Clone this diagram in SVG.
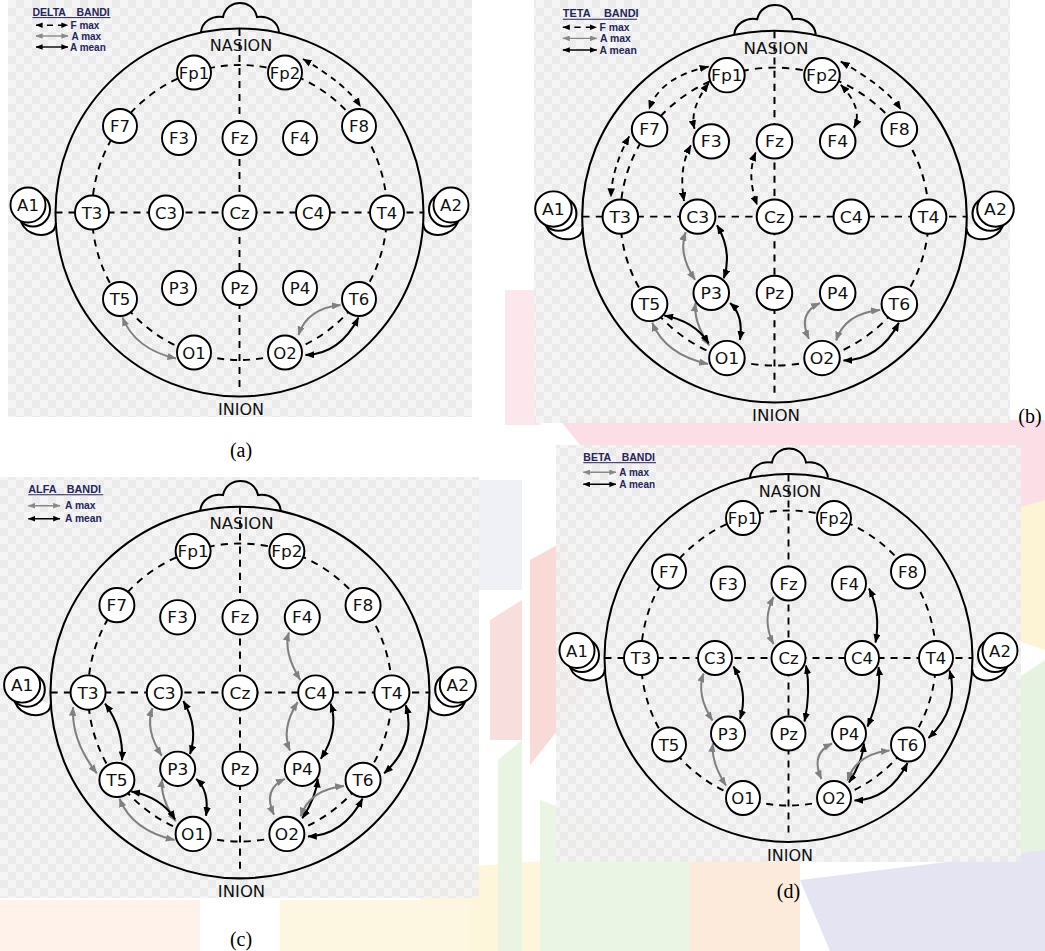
<svg xmlns="http://www.w3.org/2000/svg" xmlns:xlink="http://www.w3.org/1999/xlink" width="1045" height="951" viewBox="0 0 1045 951">
<style>
.el circle{fill:#fff;stroke:#000;stroke-width:1.9}
.el text{font-family:"DejaVu Sans",sans-serif;font-size:16.5px;text-anchor:middle;fill:#111}
.lm{font-family:"DejaVu Sans",sans-serif;font-size:16px;text-anchor:middle;fill:#111}
.fm{fill:none;stroke:#000;stroke-width:1.8;stroke-dasharray:6 5;marker-start:url(#mk);marker-end:url(#mk)}
.am{fill:none;stroke:#000;stroke-width:2;marker-start:url(#mk);marker-end:url(#mk)}
.ax{fill:none;stroke:#808080;stroke-width:2;marker-start:url(#mg);marker-end:url(#mg)}
.lt{font-family:"Liberation Sans",Arial,sans-serif;font-weight:bold;font-size:10px;fill:#25255a}
.tt{font-family:"Liberation Sans",Arial,sans-serif;font-weight:bold;font-size:10.5px;fill:#25255a}
.lu{stroke:#25255a;stroke-width:1}
.lf{fill:none;stroke:#000;stroke-width:1.4;stroke-dasharray:6 5;marker-start:url(#sk);marker-end:url(#sk)}
.lx{fill:none;stroke:#888;stroke-width:1.4;marker-start:url(#sg);marker-end:url(#sg)}
.lk{fill:none;stroke:#000;stroke-width:1.4;marker-start:url(#sk);marker-end:url(#sk)}
.cap{font-family:"Liberation Serif","Times New Roman",serif;font-size:20px;text-anchor:middle;fill:#000}
.bg{fill:url(#chk);opacity:0.9}
</style>
<defs>
<pattern id="chk" width="16" height="16" patternUnits="userSpaceOnUse"><rect width="16" height="16" fill="#f4f4f4"/><rect width="8" height="8" fill="#e9e9e9"/><rect x="8" y="8" width="8" height="8" fill="#e9e9e9"/></pattern>
<marker id="mk" viewBox="0 0 10 8" refX="9.5" refY="4" markerWidth="9" markerHeight="7.2" markerUnits="userSpaceOnUse" orient="auto-start-reverse"><path d="M0,0 L10,4 L0,8 z" fill="#000"/></marker>
<marker id="mg" viewBox="0 0 10 8" refX="9.5" refY="4" markerWidth="9" markerHeight="7.2" markerUnits="userSpaceOnUse" orient="auto-start-reverse"><path d="M0,0 L10,4 L0,8 z" fill="#808080"/></marker>
<marker id="sk" viewBox="0 0 10 8" refX="9.5" refY="4" markerWidth="7" markerHeight="5.6" markerUnits="userSpaceOnUse" orient="auto-start-reverse"><path d="M0,0 L10,4 L0,8 z" fill="#000"/></marker>
<marker id="sg" viewBox="0 0 10 8" refX="9.5" refY="4" markerWidth="7" markerHeight="5.6" markerUnits="userSpaceOnUse" orient="auto-start-reverse"><path d="M0,0 L10,4 L0,8 z" fill="#888"/></marker>
<g id="headbase">
<path d="M201,32 C202,22 212,15 223,17 C225,7 233,3 240,3 C247,3 255,7 257,17 C268,15 278,22 279,32" fill="none" stroke="#000" stroke-width="2"/>
<circle cx="239.5" cy="212.5" r="184" fill="none" stroke="#000" stroke-width="2"/>
<path d="M55.8,223 C56,235 41,237 32,233 C25,230 21,225 20,217" fill="#fff" stroke="#000" stroke-width="2"/>
<circle cx="33" cy="209.5" r="17" fill="#fff" stroke="#000" stroke-width="2"/>
<path d="M423.2,223 C423,235 438,237 447,233 C454,230 458,225 459,217" fill="#fff" stroke="#000" stroke-width="2"/>
<circle cx="446" cy="209.5" r="17" fill="#fff" stroke="#000" stroke-width="2"/>
<circle cx="239.5" cy="212.5" r="147.5" fill="none" stroke="#000" stroke-width="1.9" stroke-dasharray="7 6"/>
<path d="M55.5,212.5 H423.5 M239.5,29 V393" fill="none" stroke="#000" stroke-width="1.9" stroke-dasharray="7 6"/>
</g>
</defs>
<rect width="1045" height="951" fill="#fff"/>
<g id="watermark" opacity="0.75">
<polygon points="560,420 1045,420 1045,540 1005,500 975,470 600,470" fill="#fbd3de"/>
<polygon points="530,560 566,540 582,700 530,765" fill="#f6d0c9"/>
<polygon points="1010,510 1045,500 1045,650 1015,640" fill="#fdf0c8"/>
<polygon points="1015,680 1045,660 1045,860 1015,860" fill="#e0f0d8"/>
<polygon points="420,870 560,860 560,951 420,951" fill="#fdf3cf"/>
<polygon points="540,800 700,860 700,951 540,951" fill="#e3f2dc"/>
<polygon points="690,860 800,860 800,951 690,951" fill="#fbe3d0"/>
<polygon points="800,880 1045,850 1045,951 830,951" fill="#dddcf0"/>
<polygon points="498,760 522,740 522,951 498,951" fill="#e2f1da"/>
<polygon points="490,620 522,600 522,740 490,740" fill="#f7d3d3"/>
<polygon points="478,480 522,480 522,590 478,590" fill="#ecebf5"/>
<polygon points="505,290 540,290 540,425 505,425" fill="#fbe0e8"/>
<polygon points="0,900 200,900 200,951 0,951" fill="#fdeee4"/>
<polygon points="280,900 470,900 470,951 280,951" fill="#fdf5d8"/>
</g>
<g id="backgrounds">
<rect class="bg" x="8" y="0" width="464" height="417"/>
<rect class="bg" x="534" y="0" width="476" height="423"/>
<rect class="bg" x="0" y="477" width="479" height="421"/>
<rect class="bg" x="556" y="445" width="465" height="417"/>
</g>

<g id="panel-a">
<use href="#headbase"/>
<text class="lm" x="241" y="51">NASION</text>
<text class="lm" x="241" y="415">INION</text>
<g id="a-legend">
<text class="tt" x="32.5" y="15.7">DELTA</text><text class="tt" x="76.5" y="15.7">BANDI</text>
<line class="lu" x1="32.5" y1="17.6" x2="110.5" y2="17.6"/>
<path class="lf" d="M36,25.2H68"/><text class="lt" x="70.5" y="28.7">F max</text>
<path class="lx" d="M36,36H68"/><text class="lt" x="71.5" y="39.5">A max</text>
<path class="lk" d="M36,47H68"/><text class="lt" x="70" y="50.5">A mean</text>
</g>
<g id="a-connectors">
<path class="fm" d="M303,59 Q346,84 360.5,106.5"/>
<path class="ax" d="M122.5,317.5 Q135,349 176,358.5"/>
<path class="ax" d="M340.5,305 Q307,308.5 298.5,335"/>
<path class="am" d="M358.5,317.5 Q340,354 305.5,355"/>
</g>
<g id="a-nodes">
<g id="a-Fp1" class="el"><circle cx="194" cy="72.5" r="17"/><text x="194" y="78.5">Fp1</text></g>
<g id="a-Fp2" class="el"><circle cx="285" cy="72.5" r="17"/><text x="285" y="78.5">Fp2</text></g>
<g id="a-F7" class="el"><circle cx="120" cy="126" r="17"/><text x="120" y="132">F7</text></g>
<g id="a-F3" class="el"><circle cx="179" cy="138" r="17"/><text x="179" y="144">F3</text></g>
<g id="a-Fz" class="el"><circle cx="239.5" cy="138" r="17"/><text x="239.5" y="144">Fz</text></g>
<g id="a-F4" class="el"><circle cx="300" cy="138" r="17"/><text x="300" y="144">F4</text></g>
<g id="a-F8" class="el"><circle cx="359" cy="126" r="17"/><text x="359" y="132">F8</text></g>
<g id="a-A1" class="el"><circle cx="28" cy="205" r="17.5"/><text x="28" y="211">A1</text></g>
<g id="a-T3" class="el"><circle cx="92" cy="212.5" r="17"/><text x="92" y="218.5">T3</text></g>
<g id="a-C3" class="el"><circle cx="166" cy="212.5" r="17"/><text x="166" y="218.5">C3</text></g>
<g id="a-Cz" class="el"><circle cx="239.5" cy="212.5" r="17"/><text x="239.5" y="218.5">Cz</text></g>
<g id="a-C4" class="el"><circle cx="313" cy="212.5" r="17"/><text x="313" y="218.5">C4</text></g>
<g id="a-T4" class="el"><circle cx="387" cy="212.5" r="17"/><text x="387" y="218.5">T4</text></g>
<g id="a-A2" class="el"><circle cx="451" cy="205" r="17.5"/><text x="451" y="211">A2</text></g>
<g id="a-T5" class="el"><circle cx="120" cy="299" r="17"/><text x="120" y="305">T5</text></g>
<g id="a-P3" class="el"><circle cx="179" cy="288" r="17"/><text x="179" y="294">P3</text></g>
<g id="a-Pz" class="el"><circle cx="239.5" cy="288" r="17"/><text x="239.5" y="294">Pz</text></g>
<g id="a-P4" class="el"><circle cx="300" cy="288" r="17"/><text x="300" y="294">P4</text></g>
<g id="a-T6" class="el"><circle cx="359" cy="299" r="17"/><text x="359" y="305">T6</text></g>
<g id="a-O1" class="el"><circle cx="194" cy="352.5" r="17"/><text x="194" y="358.5">O1</text></g>
<g id="a-O2" class="el"><circle cx="285" cy="352.5" r="17"/><text x="285" y="358.5">O2</text></g>
</g>
</g>

<g id="panel-b" transform="translate(524.2,2) scale(1.045,1.01)">
<use href="#headbase"/>
<text class="lm" x="241" y="51">NASION</text>
<text class="lm" x="241" y="415">INION</text>
<g id="b-legend">
<text class="tt" x="37" y="15">TETA</text><text class="tt" x="76.3" y="15">BANDI</text>
<line class="lu" x1="37" y1="17" x2="108" y2="17"/>
<path class="lf" d="M37,25H69.5"/><text class="lt" x="72" y="28.5">F max</text>
<path class="lx" d="M37,36H69.5"/><text class="lt" x="72.5" y="39.5">A max</text>
<path class="lk" d="M37,47.5H69.5"/><text class="lt" x="72" y="51">A mean</text>
</g>
<g id="b-connectors">
<path class="fm" d="M176.5,64 Q130.5,74 119.5,106"/>
<path class="fm" d="M176.5,80.5 Q158,106 163,125.5"/>
<path class="fm" d="M100.5,133 Q84,164 83,193"/>
<path class="fm" d="M159.5,142 Q147.5,164.5 153,197"/>
<path class="fm" d="M221.5,149 Q212.5,172 223,201"/>
<path class="fm" d="M303,59 Q346,84 360.5,106.5"/>
<path class="fm" d="M303,82 Q325,106 315.5,124.5"/>
<path class="ax" d="M154.5,228 Q147,249.5 163.5,275"/>
<path class="am" d="M184.5,221 Q199.5,247 191,273.5"/>
<path class="ax" d="M164,298 Q161.5,316 177,340"/>
<path class="am" d="M197,298 Q210,310 206.5,334.5"/>
<path class="am" d="M134,310.5 Q163,316 176.5,338"/>
<path class="ax" d="M122.5,317.5 Q135,349 176,358.5"/>
<path class="ax" d="M283,298 Q261,308.5 272.5,333.5"/>
<path class="ax" d="M340.5,305 Q307,308.5 298.5,335"/>
<path class="am" d="M358.5,317.5 Q340,354 305.5,355"/>
</g>
<g id="b-nodes">
<g id="b-Fp1" class="el"><circle cx="194" cy="72.5" r="17"/><text x="194" y="78.5">Fp1</text></g>
<g id="b-Fp2" class="el"><circle cx="285" cy="72.5" r="17"/><text x="285" y="78.5">Fp2</text></g>
<g id="b-F7" class="el"><circle cx="120" cy="126" r="17"/><text x="120" y="132">F7</text></g>
<g id="b-F3" class="el"><circle cx="179" cy="138" r="17"/><text x="179" y="144">F3</text></g>
<g id="b-Fz" class="el"><circle cx="239.5" cy="138" r="17"/><text x="239.5" y="144">Fz</text></g>
<g id="b-F4" class="el"><circle cx="300" cy="138" r="17"/><text x="300" y="144">F4</text></g>
<g id="b-F8" class="el"><circle cx="359" cy="126" r="17"/><text x="359" y="132">F8</text></g>
<g id="b-A1" class="el"><circle cx="28" cy="205" r="17.5"/><text x="28" y="211">A1</text></g>
<g id="b-T3" class="el"><circle cx="92" cy="212.5" r="17"/><text x="92" y="218.5">T3</text></g>
<g id="b-C3" class="el"><circle cx="166" cy="212.5" r="17"/><text x="166" y="218.5">C3</text></g>
<g id="b-Cz" class="el"><circle cx="239.5" cy="212.5" r="17"/><text x="239.5" y="218.5">Cz</text></g>
<g id="b-C4" class="el"><circle cx="313" cy="212.5" r="17"/><text x="313" y="218.5">C4</text></g>
<g id="b-T4" class="el"><circle cx="387" cy="212.5" r="17"/><text x="387" y="218.5">T4</text></g>
<g id="b-A2" class="el"><circle cx="451" cy="205" r="17.5"/><text x="451" y="211">A2</text></g>
<g id="b-T5" class="el"><circle cx="120" cy="299" r="17"/><text x="120" y="305">T5</text></g>
<g id="b-P3" class="el"><circle cx="179" cy="288" r="17"/><text x="179" y="294">P3</text></g>
<g id="b-Pz" class="el"><circle cx="239.5" cy="288" r="17"/><text x="239.5" y="294">Pz</text></g>
<g id="b-P4" class="el"><circle cx="300" cy="288" r="17"/><text x="300" y="294">P4</text></g>
<g id="b-T6" class="el"><circle cx="359" cy="299" r="17"/><text x="359" y="305">T6</text></g>
<g id="b-O1" class="el"><circle cx="194" cy="352.5" r="17"/><text x="194" y="358.5">O1</text></g>
<g id="b-O2" class="el"><circle cx="285" cy="352.5" r="17"/><text x="285" y="358.5">O2</text></g>
</g>
</g>

<g id="panel-c" transform="translate(-6.7,477.9) scale(1.03,1.01)">
<use href="#headbase"/>
<text class="lm" x="241" y="51">NASION</text>
<text class="lm" x="241" y="415">INION</text>
<g id="c-legend">
<text class="tt" x="34" y="14.7">ALFA</text><text class="tt" x="71.3" y="14.7">BANDI</text>
<line class="lu" x1="34" y1="16.7" x2="106.8" y2="16.7"/>
<path class="lx" d="M34,27.5H64.8"/><text class="lt" x="69.6" y="30.8">A max</text>
<path class="lk" d="M34,40.4H64.8"/><text class="lt" x="69.6" y="43.7">A mean</text>
</g>
<g id="c-connectors">
<path class="ax" d="M287,153 Q281.3,172.3 298,200"/>
<path class="ax" d="M77.5,227 Q75.5,260 100.5,292.5"/>
<path class="am" d="M108.5,223.5 Q126.5,248.5 125,279.5"/>
<path class="ax" d="M154.5,228 Q147,249.5 163.5,275"/>
<path class="am" d="M184.5,221 Q199.5,247 191,273.5"/>
<path class="ax" d="M164,298 Q161.5,316 177,340"/>
<path class="am" d="M197,298 Q210,310 206.5,334.5"/>
<path class="am" d="M134,310.5 Q163,316 176.5,338"/>
<path class="ax" d="M122.5,317.5 Q135,349 176,358.5"/>
<path class="ax" d="M295.5,222 Q279,248.5 288,270"/>
<path class="am" d="M327.5,223.5 Q336,250 318,278"/>
<path class="ax" d="M283,298 Q261,308.5 272.5,333.5"/>
<path class="am" d="M315,298 Q313.5,316 300,337"/>
<path class="am" d="M400.5,225 Q411,262.5 379.5,292.5"/>
<path class="ax" d="M340.5,305 Q307,308.5 298.5,335"/>
<path class="am" d="M358.5,317.5 Q340,354 305.5,355"/>
</g>
<g id="c-nodes">
<g id="c-Fp1" class="el"><circle cx="194" cy="72.5" r="17"/><text x="194" y="78.5">Fp1</text></g>
<g id="c-Fp2" class="el"><circle cx="285" cy="72.5" r="17"/><text x="285" y="78.5">Fp2</text></g>
<g id="c-F7" class="el"><circle cx="120" cy="126" r="17"/><text x="120" y="132">F7</text></g>
<g id="c-F3" class="el"><circle cx="179" cy="138" r="17"/><text x="179" y="144">F3</text></g>
<g id="c-Fz" class="el"><circle cx="239.5" cy="138" r="17"/><text x="239.5" y="144">Fz</text></g>
<g id="c-F4" class="el"><circle cx="300" cy="138" r="17"/><text x="300" y="144">F4</text></g>
<g id="c-F8" class="el"><circle cx="359" cy="126" r="17"/><text x="359" y="132">F8</text></g>
<g id="c-A1" class="el"><circle cx="28" cy="205" r="17.5"/><text x="28" y="211">A1</text></g>
<g id="c-T3" class="el"><circle cx="92" cy="212.5" r="17"/><text x="92" y="218.5">T3</text></g>
<g id="c-C3" class="el"><circle cx="166" cy="212.5" r="17"/><text x="166" y="218.5">C3</text></g>
<g id="c-Cz" class="el"><circle cx="239.5" cy="212.5" r="17"/><text x="239.5" y="218.5">Cz</text></g>
<g id="c-C4" class="el"><circle cx="313" cy="212.5" r="17"/><text x="313" y="218.5">C4</text></g>
<g id="c-T4" class="el"><circle cx="387" cy="212.5" r="17"/><text x="387" y="218.5">T4</text></g>
<g id="c-A2" class="el"><circle cx="451" cy="205" r="17.5"/><text x="451" y="211">A2</text></g>
<g id="c-T5" class="el"><circle cx="120" cy="299" r="17"/><text x="120" y="305">T5</text></g>
<g id="c-P3" class="el"><circle cx="179" cy="288" r="17"/><text x="179" y="294">P3</text></g>
<g id="c-Pz" class="el"><circle cx="239.5" cy="288" r="17"/><text x="239.5" y="294">Pz</text></g>
<g id="c-P4" class="el"><circle cx="300" cy="288" r="17"/><text x="300" y="294">P4</text></g>
<g id="c-T6" class="el"><circle cx="359" cy="299" r="17"/><text x="359" y="305">T6</text></g>
<g id="c-O1" class="el"><circle cx="194" cy="352.5" r="17"/><text x="194" y="358.5">O1</text></g>
<g id="c-O2" class="el"><circle cx="285" cy="352.5" r="17"/><text x="285" y="358.5">O2</text></g>
</g>
</g>

<g id="panel-d" transform="translate(549,445.5)">
<use href="#headbase"/>
<text class="lm" x="241" y="51">NASION</text>
<text class="lm" x="241" y="415">INION</text>
<g id="d-legend">
<text class="tt" x="34.3" y="15.2">BETA</text><text class="tt" x="72.7" y="15.2">BANDI</text>
<line class="lu" x1="34.3" y1="17.2" x2="107" y2="17.2"/>
<path class="lx" d="M34.3,26.8H67"/><text class="lt" x="70.3" y="30">A max</text>
<path class="lk" d="M34.3,38.8H67"/><text class="lt" x="70.3" y="42">A mean</text>
</g>
<g id="d-connectors">
<path class="ax" d="M224.5,151.5 Q212.5,175 224.5,198.5"/>
<path class="am" d="M320,143 Q332,167 326.5,197"/>
<path class="ax" d="M154.5,228 Q147,249.5 163.5,275"/>
<path class="am" d="M184.5,221 Q199.5,247 191,273.5"/>
<path class="am" d="M257,220 Q262,246 255.5,276"/>
<path class="am" d="M329.5,221.5 Q333,248 318.5,281"/>
<path class="am" d="M400.5,225 Q411,262.5 379.5,292.5"/>
<path class="ax" d="M164,298 Q161.5,316 177,340"/>
<path class="ax" d="M283,298 Q261,308.5 272.5,333.5"/>
<path class="am" d="M315,298 Q313.5,316 300,337"/>
<path class="ax" d="M340.5,305 Q307,308.5 298.5,335"/>
<path class="am" d="M358.5,317.5 Q340,354 305.5,355"/>
</g>
<g id="d-nodes">
<g id="d-Fp1" class="el"><circle cx="194" cy="72.5" r="17"/><text x="194" y="78.5">Fp1</text></g>
<g id="d-Fp2" class="el"><circle cx="285" cy="72.5" r="17"/><text x="285" y="78.5">Fp2</text></g>
<g id="d-F7" class="el"><circle cx="120" cy="126" r="17"/><text x="120" y="132">F7</text></g>
<g id="d-F3" class="el"><circle cx="179" cy="138" r="17"/><text x="179" y="144">F3</text></g>
<g id="d-Fz" class="el"><circle cx="239.5" cy="138" r="17"/><text x="239.5" y="144">Fz</text></g>
<g id="d-F4" class="el"><circle cx="300" cy="138" r="17"/><text x="300" y="144">F4</text></g>
<g id="d-F8" class="el"><circle cx="359" cy="126" r="17"/><text x="359" y="132">F8</text></g>
<g id="d-A1" class="el"><circle cx="28" cy="205" r="17.5"/><text x="28" y="211">A1</text></g>
<g id="d-T3" class="el"><circle cx="92" cy="212.5" r="17"/><text x="92" y="218.5">T3</text></g>
<g id="d-C3" class="el"><circle cx="166" cy="212.5" r="17"/><text x="166" y="218.5">C3</text></g>
<g id="d-Cz" class="el"><circle cx="239.5" cy="212.5" r="17"/><text x="239.5" y="218.5">Cz</text></g>
<g id="d-C4" class="el"><circle cx="313" cy="212.5" r="17"/><text x="313" y="218.5">C4</text></g>
<g id="d-T4" class="el"><circle cx="387" cy="212.5" r="17"/><text x="387" y="218.5">T4</text></g>
<g id="d-A2" class="el"><circle cx="451" cy="205" r="17.5"/><text x="451" y="211">A2</text></g>
<g id="d-T5" class="el"><circle cx="120" cy="299" r="17"/><text x="120" y="305">T5</text></g>
<g id="d-P3" class="el"><circle cx="179" cy="288" r="17"/><text x="179" y="294">P3</text></g>
<g id="d-Pz" class="el"><circle cx="239.5" cy="288" r="17"/><text x="239.5" y="294">Pz</text></g>
<g id="d-P4" class="el"><circle cx="300" cy="288" r="17"/><text x="300" y="294">P4</text></g>
<g id="d-T6" class="el"><circle cx="359" cy="299" r="17"/><text x="359" y="305">T6</text></g>
<g id="d-O1" class="el"><circle cx="194" cy="352.5" r="17"/><text x="194" y="358.5">O1</text></g>
<g id="d-O2" class="el"><circle cx="285" cy="352.5" r="17"/><text x="285" y="358.5">O2</text></g>
</g>
</g>

<g id="captions">
<text class="cap" x="241" y="457">(a)</text>
<text class="cap" x="1030" y="423">(b)</text>
<text class="cap" x="241" y="946">(c)</text>
<text class="cap" x="788.5" y="898">(d)</text>
</g>
</svg>
